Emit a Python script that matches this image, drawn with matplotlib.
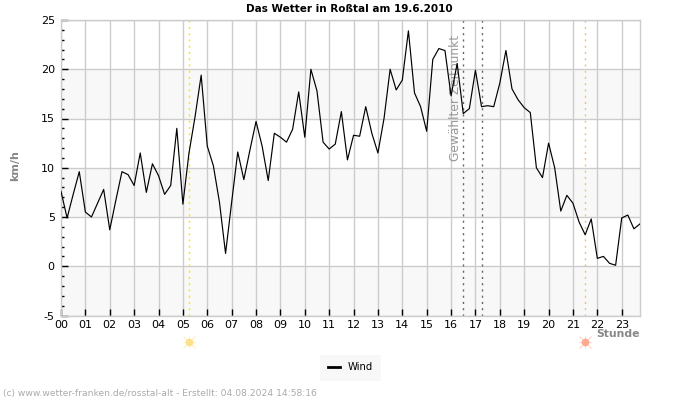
"""
Das Wetter in Rosstal - Wind im Tagesverlauf, 15-Minuten-Werte.
"""

import matplotlib
matplotlib.use('Agg')
import matplotlib.pyplot as plt
import numpy as np

plt.rcParams['axes.unicode_minus'] = False

# ── Data ──
wind = [
    7.6, 4.9, 7.3, 9.6, 5.5, 5.0, 6.4, 7.8,
    3.7, 6.7, 9.6, 9.3, 8.2, 11.5, 7.5, 10.4,
    9.2, 7.3, 8.2, 14.0, 6.3, 11.5, 15.2, 19.4,
    12.2, 10.2, 6.5, 1.3, 6.5, 11.6, 8.8, 11.8,
    14.7, 12.2, 8.7, 13.5, 13.1, 12.6, 13.9, 17.7,
    13.1, 20.0, 17.8, 12.6, 11.9, 12.4, 15.7, 10.8,
    13.3, 13.2, 16.2, 13.5, 11.5, 15.0, 20.0, 17.9,
    18.9, 23.9, 17.6, 16.2, 13.7, 21.0, 22.1, 21.9,
    17.3, 20.6, 15.5, 16.0, 19.9, 16.2, 16.3, 16.2,
    18.6, 21.9, 18.0, 16.9, 16.1, 15.6, 10.0, 9.0,
    12.5, 10.0, 5.6, 7.2, 6.4, 4.5, 3.2, 4.8,
    0.8, 1.0, 0.3, 0.1, 4.9, 5.2, 3.8, 4.3,
]
hours = np.arange(len(wind)) * 0.25
hour_ticks = list(range(24))
hour_labels = [f'{h:02d}' for h in hour_ticks]
value_ticks = [-5, 0, 5, 10, 15, 20, 25]
bands = [(-5, 0), (5, 10), (15, 20)]
sunrise = 5.25
sunset = 21.5
selected = [16.5, 17.25]

GRID = '#cccccc'
GRAY = '#888888'

fig = plt.figure(figsize=(7, 4), dpi=100)
ax = fig.add_axes([61 / 700, 1 - 315.5 / 400, 579 / 700, 295.5 / 400])
ax.set_xlim(0, 23.75)
ax.set_ylim(-5, 25)

# ── Background ──
for lo, hi in bands:
    ax.axhspan(lo, hi, color='#f8f8f8', lw=0, zorder=0)
ax.set_axisbelow(True)
ax.grid(True, which='major', color=GRID, lw=1)

# ── Vertical markers ──
ax.axvline(sunrise, color='#ffe600', lw=1, ls=(0, (1.5, 3)), zorder=1.5)
ax.axvline(sunset, color='#f5c070', lw=1, ls=(0, (1.5, 3)), zorder=1.5)
for t in selected:
    ax.axvline(t, color='#666666', lw=1, ls=(0, (1.5, 3)), zorder=1.5)
ax.text(16.19, 17.1, 'Gewählter Zeitpunkt', rotation=90, color='#999999', fontsize=8.8,
        ha='center', va='center', zorder=1.6)

line, = ax.plot(hours, wind, color='black', lw=0.85, label='Wind', zorder=3)

# ── Axes ──
ax.set_xticks(hour_ticks)
ax.set_xticklabels(hour_labels)
ax.set_yticks(value_ticks)
ax.set_yticks(np.arange(-5, 26), minor=True)
ax.tick_params(axis='x', which='major', direction='in', length=5, width=1, color='black',
               labelsize=8, pad=3)
ax.tick_params(axis='y', which='major', direction='in', length=5, width=1, color='black',
               labelsize=8, pad=4.5)
ax.tick_params(axis='y', which='minor', direction='in', length=2.5, width=1, color='black')
for spine in ax.spines.values():
    spine.set_color(GRID)
    spine.set_linewidth(1)

fig.text(349 / 700, 1 - 9 / 400, 'Das Wetter in Roßtal am 19.6.2010', fontsize=7.5, fontweight='bold',
         ha='center', va='center')
fig.text(15.5 / 700, 1 - 166 / 400, 'km/h', rotation=90, fontsize=8, fontweight='bold',
         color=GRAY, ha='center', va='center')
fig.text(639.5 / 700, 1 - 334 / 400, 'Stunde', fontsize=7.8, fontweight='bold', color=GRAY,
         ha='right', va='center')
fig.text(3 / 700, 1 - 393.5 / 400, '(c) www.wetter-franken.de/rosstal-alt - Erstellt: 04.08.2024 14:58:16',
         fontsize=6.6, color='#aaaaaa', ha='left', va='center')

# ── Sun symbols below the axis ──
trans = ax.get_xaxis_transform()
for t, col, ray in [(sunrise, '#fde08a', '#fdeebb'), (sunset, '#fdaa90', '#fdd0c0')]:
    for m in ['+', 'x']:
        ax.plot([t], [-0.088], marker=m, ms=8.5, mew=0.7, color=ray, transform=trans,
                clip_on=False, zorder=4)
    ax.plot([t], [-0.088], marker='o', ms=5.5, mew=0, color=col, transform=trans,
            clip_on=False, zorder=5)

# ── Legend ──
leg = fig.legend(handles=[line], loc='center', bbox_to_anchor=(350.5 / 700, 1 - 367.5 / 400),
                 fontsize=7.2, frameon=True, facecolor='#f8f8f8', edgecolor='none', fancybox=False,
                 framealpha=1, handlelength=1.2, handletextpad=0.8, borderpad=0.8, borderaxespad=0)
leg.get_lines()[0].set_linewidth(2)

fig.savefig('out.png', dpi=100)
